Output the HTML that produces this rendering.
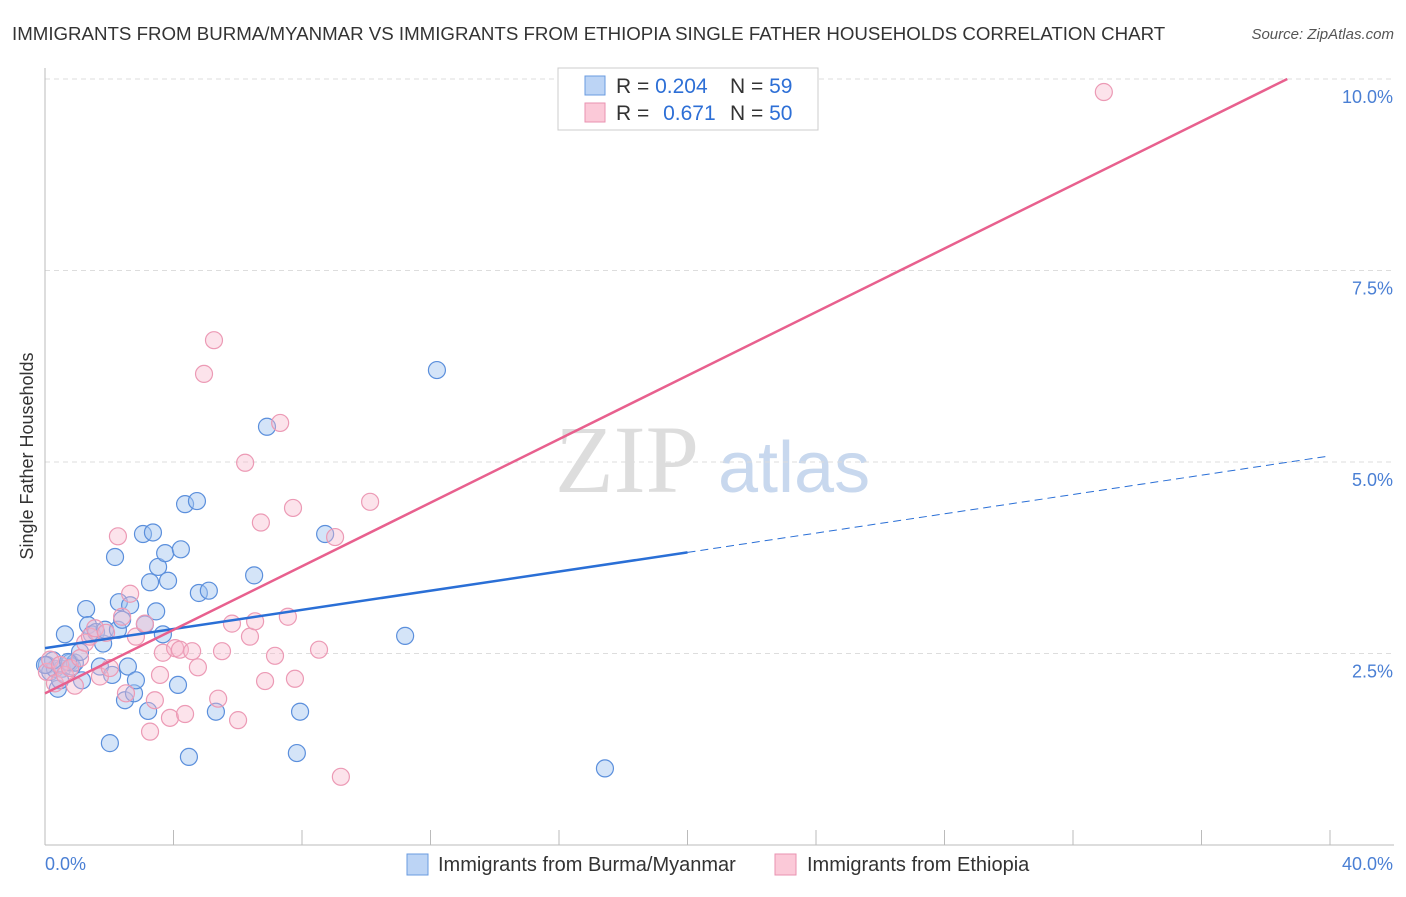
<!DOCTYPE html>
<html><head><meta charset="utf-8"><style>
body{margin:0;background:#fff;font-family:"Liberation Sans",sans-serif;}
#c{position:relative;width:1406px;height:892px;}
</style></head><body>
<div id="c">
<svg id="s" width="1406" height="892" xmlns="http://www.w3.org/2000/svg">
<text x="12" y="40" font-size="18.7" fill="#333">IMMIGRANTS FROM BURMA/MYANMAR VS IMMIGRANTS FROM ETHIOPIA SINGLE FATHER HOUSEHOLDS CORRELATION CHART</text>
<text x="1394" y="39" font-size="15" fill="#555" text-anchor="end" font-style="italic">Source: ZipAtlas.com</text>
<text x="33" y="456" font-size="18" fill="#333" text-anchor="middle" transform="rotate(-90 33 456)">Single Father Households</text>
<text x="555" y="492" font-size="96" fill="#ddd" font-family="Liberation Serif">ZIP</text>
<text x="718" y="492" font-size="72" fill="#c8d8ee">atlas</text>
<g id="grid"></g><g id="pts"></g><g id="lines"></g>
<g>
<rect x="558" y="68" width="260" height="62" fill="#fff" stroke="#ccc"/>
<rect x="585" y="76" width="20" height="19" fill="#bcd4f5" stroke="#6a9be0"/>
<rect x="585" y="103" width="20" height="19" fill="#fbc9d8" stroke="#ea92b0"/>
<text x="616" y="93" font-size="21" fill="#333">R = <tspan fill="#2d6fd6">0.204</tspan><tspan x="730">N = </tspan><tspan fill="#2d6fd6">59</tspan></text>
<text x="616" y="120" font-size="21" fill="#333">R = <tspan fill="#2d6fd6" dx="8">0.671</tspan><tspan x="730">N = </tspan><tspan fill="#2d6fd6">50</tspan></text>
</g>
<g>
<rect x="407" y="854" width="21" height="21" fill="#bcd4f5" stroke="#6a9be0"/>
<text x="438" y="871" font-size="20" fill="#333">Immigrants from Burma/Myanmar</text>
<rect x="775" y="854" width="21" height="21" fill="#fbc9d8" stroke="#ea92b0"/>
<text x="807" y="871" font-size="20" fill="#333">Immigrants from Ethiopia</text>
</g>
</svg></div>
<script>
const yTicks=[2.5,5.0,7.5,10.0];
const yTickLabels=["2.5%","5.0%","7.5%","10.0%"];
const xTickCount=10;
const blueX=[0.06,0.16,0.31,0.40,0.53,0.62,0.78,0.84,0.93,1.09,1.15,1.28,1.34,1.46,1.59,1.71,1.81,1.87,2.02,2.09,2.18,2.27,2.30,2.40,2.49,2.58,2.65,2.77,2.83,3.05,3.11,3.21,3.27,3.36,3.46,3.52,3.67,3.74,3.83,4.14,4.23,4.36,4.48,4.73,4.79,5.10,5.32,6.51,6.91,7.84,7.94,8.72,11.21,12.20,17.43,0.47,0.25,0.72,0.00];
const blueY=[2.35,2.26,2.30,2.04,2.30,2.75,2.38,2.33,2.38,2.52,2.15,3.08,2.87,2.75,2.78,2.33,2.63,2.81,1.33,2.22,3.76,2.81,3.17,2.94,1.89,2.33,3.13,1.98,2.15,4.06,2.88,1.75,3.43,4.08,3.05,3.63,2.75,3.81,3.45,2.09,3.86,4.45,1.15,4.49,3.29,3.32,1.74,3.52,5.46,1.20,1.74,4.06,2.73,6.20,1.00,2.15,2.41,2.39,2.35];
const pinkX=[0.06,0.16,0.31,0.47,0.62,0.78,0.93,1.09,1.25,1.40,1.56,1.71,1.90,2.02,2.27,2.40,2.52,2.65,2.83,3.11,3.27,3.42,3.58,3.67,3.89,4.05,4.20,4.36,4.58,4.76,4.95,5.26,5.39,5.51,5.82,6.01,6.23,6.38,6.54,6.72,6.85,7.16,7.32,7.56,7.72,7.78,8.53,9.03,9.21,10.12,32.96];
const pinkY=[2.26,2.42,2.11,2.35,2.22,2.31,2.08,2.44,2.64,2.72,2.83,2.20,2.77,2.31,4.03,2.98,1.98,3.28,2.72,2.89,1.48,1.89,2.22,2.51,1.66,2.57,2.55,1.71,2.53,2.32,6.15,6.59,1.91,2.53,2.89,1.63,4.99,2.72,2.92,4.21,2.14,2.47,5.51,2.98,4.40,2.17,2.55,4.02,0.89,4.48,9.83];
const blueLine=[0,2.57,20,3.82,40,5.08];
const pinkLine=[0,1.98,38.67,10.0];
const X0=45,X1=1330,Y0=845,PY=76.6;
const sx=v=>X0+(X1-X0)*v/40, sy=v=>Y0-v*PY;
const NS="http://www.w3.org/2000/svg";
function mk(t,a,p){const e=document.createElementNS(NS,t);for(const k in a)e.setAttribute(k,a[k]);p.appendChild(e);return e;}
const g=document.getElementById('grid');
yTicks.forEach((v,i)=>{
 const l=mk('line',{x1:X0,x2:1394,y1:sy(v),y2:sy(v),stroke:'#ddd','stroke-dasharray':'5,4'},g);
 
 
 const t=mk('text',{x:1393,y:sy(v)+24,'font-size':18,fill:'#4a7fd4','text-anchor':'end'},g);
 t.textContent=yTickLabels[i];
 
 
});
const ax=mk('line',{x1:X0,x2:1394,y1:Y0,y2:Y0,stroke:'#bbb'},g);


const ay=mk('line',{x1:X0,x2:X0,y1:68,y2:Y0,stroke:'#bbb'},g);


for(let i=1;i<=xTickCount;i++){const x=sx(i*4);const tk=mk('line',{x1:x,x2:x,y1:Y0,y2:Y0-15,stroke:'#bbb'},g);
 
 }
const xl0=mk('text',{x:45,y:870,'font-size':18,fill:'#4a7fd4'},g);xl0.textContent='0.0%';


const xl1=mk('text',{x:1393,y:870,'font-size':18,fill:'#4a7fd4','text-anchor':'end'},g);xl1.textContent='40.0%';


const P=document.getElementById('pts');
blueX.forEach((x,i)=>{const c=mk('circle',{cx:sx(x),cy:sy(blueY[i]),r:8.5,fill:'rgba(160,196,240,0.45)',stroke:'#5b8fdc','stroke-width':1.2},P);
 
 });
pinkX.forEach((x,i)=>{const c=mk('circle',{cx:sx(x),cy:sy(pinkY[i]),r:8.5,fill:'rgba(248,184,204,0.4)',stroke:'#ec9ab5','stroke-width':1.2},P);
 
 });
const L=document.getElementById('lines');
const b1=mk('line',{x1:sx(blueLine[0]),y1:sy(blueLine[1]),x2:sx(blueLine[2]),y2:sy(blueLine[3]),stroke:'#2a6fd6','stroke-width':2.5},L);


const b2=mk('line',{x1:sx(blueLine[2]),y1:sy(blueLine[3]),x2:sx(blueLine[4]),y2:sy(blueLine[5]),stroke:'#2a6fd6','stroke-width':1,'stroke-dasharray':'8,5'},L);


const p1=mk('line',{x1:sx(pinkLine[0]),y1:sy(pinkLine[1]),x2:sx(pinkLine[2]),y2:sy(pinkLine[3]),stroke:'#e8608e','stroke-width':2.5},L);


</script>
</body></html>
